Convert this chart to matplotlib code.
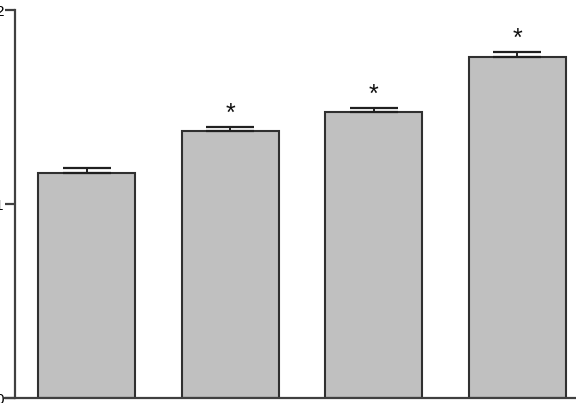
import matplotlib
matplotlib.use("Agg")
import matplotlib.pyplot as plt
import numpy as np

groups = ["A", "B", "C", "D"]
values = [1.160, 1.376, 1.474, 1.758]
errors = [0.026, 0.021, 0.021, 0.026]
significant = [False, True, True, True]
yticks = [0, 1, 2]
ytick_labels = ["0", "1", "2"]

fig = plt.figure(figsize=(5.76, 4.03), dpi=100)
ax = fig.add_axes([15/576, 5/403, 1 - 15/576, 388/403])

x = np.arange(len(groups))
ax.bar(x, values, width=0.675, color="#c0c0c0", edgecolor="#303030", linewidth=1.5, zorder=2)
ax.errorbar(x, values, yerr=[[0]*len(values), errors], fmt="none", ecolor="#202020",
            elinewidth=1.4, capsize=17.5, capthick=1.6, zorder=3)
for xi, v, e, s in zip(x, values, errors, significant):
    if s:
        ax.text(xi, v + e + 0.005, "*", ha="center", va="bottom", fontsize=18,
                family="Liberation Sans", color="#111111")

ax.set_xlim(-0.5, 3.41)
ax.set_ylim(0, 2)
ax.set_yticks(yticks)
ax.set_yticklabels(ytick_labels, fontsize=11, family="Liberation Sans")
ax.set_xticks([])
for side in ["top", "right"]:
    ax.spines[side].set_visible(False)
for side in ["left", "bottom"]:
    ax.spines[side].set_linewidth(1.6)
    ax.spines[side].set_color("#404040")
ax.tick_params(axis="y", direction="out", length=7.2, width=1.6, color="#404040", pad=1)
ax.spines["bottom"].set_bounds(-0.57, 3.41)
ax.spines["left"].set_zorder(1)

fig.savefig("out.png", dpi=100)
